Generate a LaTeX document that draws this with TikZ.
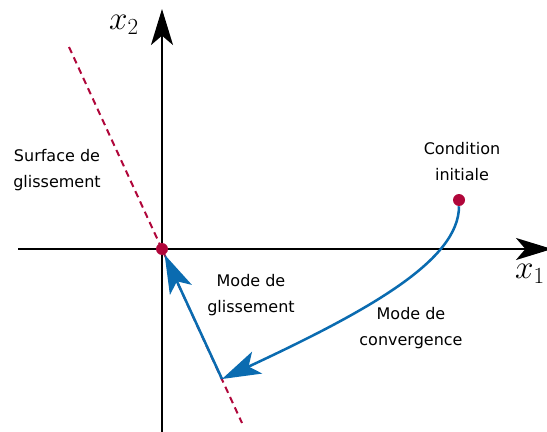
\documentclass[tikz,border=0pt]{standalone}
\usepackage{fontspec}
\newfontfamily\labelfont{DejaVu Sans}
\usetikzlibrary{arrows.meta}
\definecolor{ink}{HTML}{000000}
\definecolor{crimson}{HTML}{B0063A}
\definecolor{traj}{HTML}{0A6BB0}
\tikzset{
  axis/.style={-{Stealth[length=27pt,width=16.5pt,inset=7pt]},line width=1.5pt,color=ink},
  flow/.style={-{Stealth[length=29pt,width=18pt,inset=7pt]},line width=1.9pt,color=traj},
  surface/.style={crimson,line width=1.5pt,dash pattern=on 5pt off 3.5pt},
  state/.style={circle,minimum size=9pt,inner sep=0pt,fill=crimson},
  lbl/.style={align=center,font={\labelfont\fontsize{12}{19.5}\selectfont}},
  axlbl/.style={font={\fontsize{23}{28}\selectfont}},
}
\begin{document}
\begin{tikzpicture}[x=0.75pt,y=-0.75pt]
  \useasboundingbox (0,0) rectangle (547,432);
  \coordinate (sTop) at (69,47);
  \coordinate (sBot) at (242,423);
  \coordinate (pivot) at (222,379);
  \coordinate (xA) at (18,249);
  \coordinate (xB) at (552,249);
  \coordinate (yA) at (162,432);
  \coordinate (yB) at (162,9);

  \draw[surface] (sTop) -- (sBot);
  \draw[axis] (xA) -- (xB);
  \draw[axis] (yA) -- (yB);

  \node[state] (O) at (162,249) {};
  \node[state] (ci) at (459,200) {};

  \draw[flow] (ci.south) .. controls (459,260) and (370,310) .. (pivot);
  \draw[flow] (pivot) -- (O);

  \node[axlbl] (lx2) at (124,25) {$x_2$};
  \node[axlbl] (lx1) at (530,274) {$x_1$};
  \node[lbl] (surf) at (57,170) {Surface de\\glissement};
  \node[lbl] (cond) at (462,162) {Condition\\initiale};
  \node[lbl] (mglis) at (251,295) {Mode de\\glissement};
  \node[lbl] (mconv) at (411,328) {Mode de\\convergence};
\end{tikzpicture}
\end{document}
